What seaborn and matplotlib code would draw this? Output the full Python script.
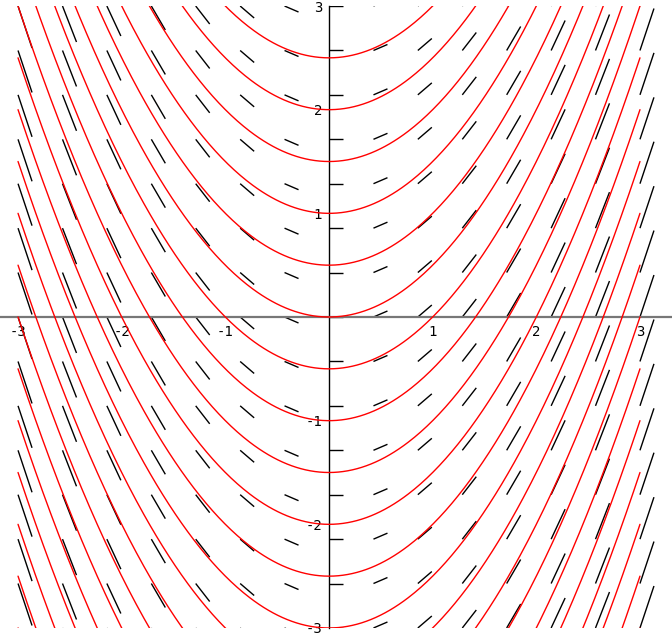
import numpy as np
import pandas as pd
import matplotlib
matplotlib.use("Agg")
import matplotlib.pyplot as plt
import seaborn as sns
from matplotlib.collections import LineCollection
from matplotlib.patches import Rectangle
from matplotlib.ticker import MultipleLocator

# solution curves y = x^2/2 + C of y' = x
c_values = [-7.5, -7.0, -6.5, -6.0, -5.5, -5.0, -4.5, -4.0, -3.5, -3.0, -2.5,
            -2.0, -1.5, -1.0, -0.5, 0.0, 0.5, 1.0, 1.5, 2.0, 2.5]
# slope field grid (15 x 15 over [-3, 3])
grid = [-3.0, -2.571, -2.143, -1.714, -1.286, -0.857, -0.429, 0.0,
        0.429, 0.857, 1.286, 1.714, 2.143, 2.571, 3.0]
tick_values = [-3, -2, -1, 1, 2, 3]
tick_labels = ["-3", "-2", "-1", "1", "2", "3"]
seg_dx = 0.135

#%%
xs = np.linspace(-3, 3, 401)
df = pd.concat([pd.DataFrame({"x": xs, "y": xs**2 / 2 + c, "C": c}) for c in c_values],
               ignore_index=True)

sns.set_style("white")
plt.rcParams["font.family"] = ["DejaVu Sans Mono", "DejaVu Sans"]

fig = plt.figure(figsize=(6.72, 6.34), dpi=100)
ax = fig.add_axes([0, 0, 1, 1])

clip = Rectangle((-5, -3), 10, 6, transform=ax.transData)

# slope segments, drawn from each grid point to the right
segs = []
for gx in grid:
    for gy in grid:
        segs.append([(gx, gy), (gx + seg_dx, gy + seg_dx * gx)])
lc = LineCollection(segs, colors="black", linewidths=1.0, zorder=1)
ax.add_collection(lc)
lc.set_clip_path(clip)

sns.lineplot(data=df, x="x", y="y", units="C", estimator=None, sort=False,
             color="red", lw=1.0, legend=False, ax=ax, zorder=3)
for line in ax.lines:
    line.set_clip_path(clip)

ax.set_xlim(-3.174, 3.309)
ax.set_ylim(-3.058, 3.058)
ax.set_xlabel("")
ax.set_ylabel("")

for side in ["top", "right"]:
    ax.spines[side].set_visible(False)
ax.spines["left"].set_position(("data", 0))
ax.spines["bottom"].set_position(("data", 0))
ax.spines["left"].set_bounds(-3, 3)
ax.spines["left"].set_color("black")
ax.spines["left"].set_linewidth(1.0)
ax.spines["bottom"].set_color("#777777")
ax.spines["bottom"].set_linewidth(1.6)

ax.set_xticks(tick_values, tick_labels)
ax.set_yticks(tick_values, tick_labels)
ax.xaxis.set_minor_locator(MultipleLocator(0.2))
ax.yaxis.set_minor_locator(MultipleLocator(0.2))
ax.tick_params(axis="both", which="both", direction="in", length=2, width=0.8,
               color="#999999", labelsize=10, labelcolor="black")
ax.tick_params(axis="x", which="major", pad=6)
ax.tick_params(axis="y", which="major", pad=5)

fig.savefig("out.png", dpi=100)
